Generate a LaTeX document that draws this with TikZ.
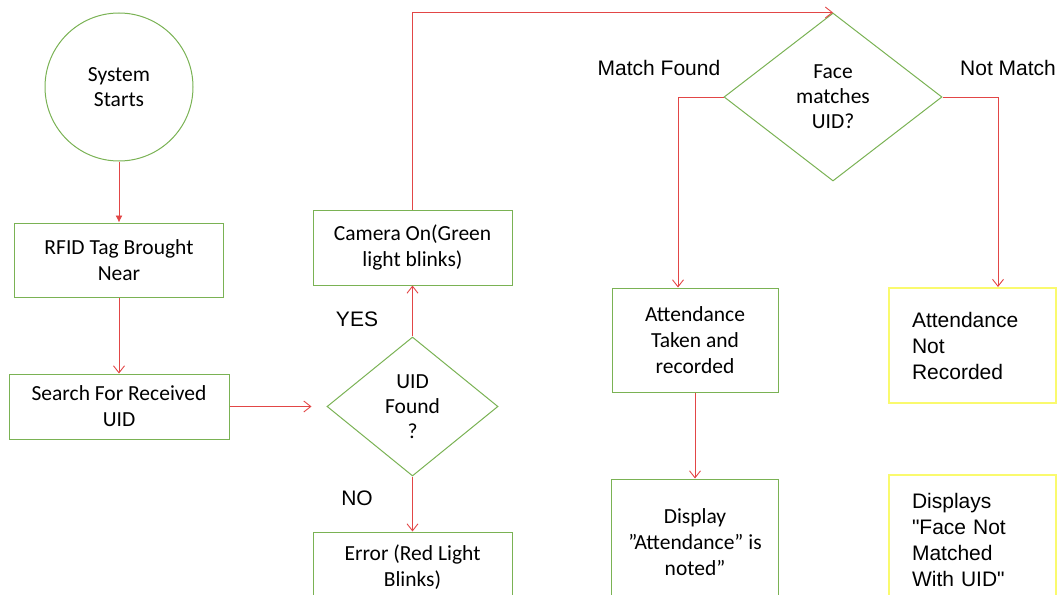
\documentclass[tikz,border=0pt]{standalone}
\usepackage{fontspec}
\setmainfont{Carlito}
\newfontfamily\labelfont{Liberation Sans}
\usetikzlibrary{positioning,shapes.geometric,arrows.meta}
\definecolor{boxgreen}{RGB}{122,178,84}
\definecolor{flowred}{RGB}{226,70,70}
\definecolor{boxyellow}{RGB}{250,250,110}
\tikzset{
  stepbox/.style={draw=boxgreen, line width=1pt, align=center, inner sep=0pt, font=\fontsize{21.5}{26}\selectfont},
  decision/.style={diamond, draw=boxgreen, line width=1pt, align=center, inner sep=0pt, font=\fontsize{21.5}{25}\selectfont},
  notebox/.style={draw=boxyellow, line width=2pt, align=left, inner xsep=23pt, inner ysep=0pt, text width=121pt, font=\labelfont\fontsize{21}{26}\selectfont},
  flow/.style={draw=flowred, line width=0.9pt, -{Straight Barb[length=7pt,width=11pt]}},
  branch/.style={font=\labelfont\fontsize{21}{25}\selectfont}
}
\begin{document}
\begin{tikzpicture}[x=1pt, y=-1pt]
\useasboundingbox (0,0) rectangle (1059,594);
\node[circle, draw=boxgreen, line width=1pt, minimum size=148pt, align=center, font=\fontsize{21.5}{25}\selectfont] (start) at (119,87) {System\\Starts};
\node[stepbox, minimum width=209pt, minimum height=74pt, below=61pt of start] (rfid) {RFID Tag Brought\\Near};
\node[stepbox, minimum width=220pt, minimum height=65pt, below=76pt of rfid] (search) {Search For Received\\UID};
\node[decision, minimum width=171pt, minimum height=139pt, right=97pt of search] (found) {UID\\Found\\?};
\node[stepbox, minimum width=199pt, minimum height=75pt, above=51pt of found] (camera) {Camera On(Green\\light blinks)};
\node[stepbox, minimum width=199pt, minimum height=70pt, below=55pt of found] (error) {Error (Red Light\\Blinks)};
\node[decision, minimum width=218pt, minimum height=168pt] (face) at (833,97) {Face\\matches\\UID?};
\node[stepbox, minimum width=166pt, minimum height=104pt] (taken) at (695,340) {Attendance\\Taken and\\recorded};
\node[stepbox, minimum width=167pt, minimum height=126pt, below=86pt of taken] (shown) {Display\\”Attendance” is\\noted”};
\node[notebox, minimum height=115pt] (notrec) at (972.5,345.5) {Attendance\\Not\\Recorded};
\node[notebox, minimum height=130pt, below=70pt of notrec] (nomatch) {Displays\\"Face Not\\Matched\\With UID"};
% branch labels
\node[branch] (yes) at (357,319) {YES};
\node[branch] (no) at (357,498) {NO};
\node[branch] (matched) at (659,68) {Match Found};
\node[branch] (unmatched) at (1008,68) {Not Match};
% connectors
\draw[flowred, line width=0.9pt, -{Latex[length=7pt,width=7pt]}] (start) -- (rfid);
\draw[flow] (rfid) -- (search);
\draw[flow, shorten >=15pt] (search) -- (found);
\draw[flow] (found) -- (camera);
\draw[flow] (found) -- (error);
\draw[flow] (camera.north) |- (face.north);
\draw[flow] (face.west) -| ([xshift=-17pt]taken.north);
\draw[flow] (face.east) -| ([xshift=25.5pt]notrec.north);
\draw[flow] (taken.south) -- (taken.south |- shown.north);
\end{tikzpicture}
\end{document}
